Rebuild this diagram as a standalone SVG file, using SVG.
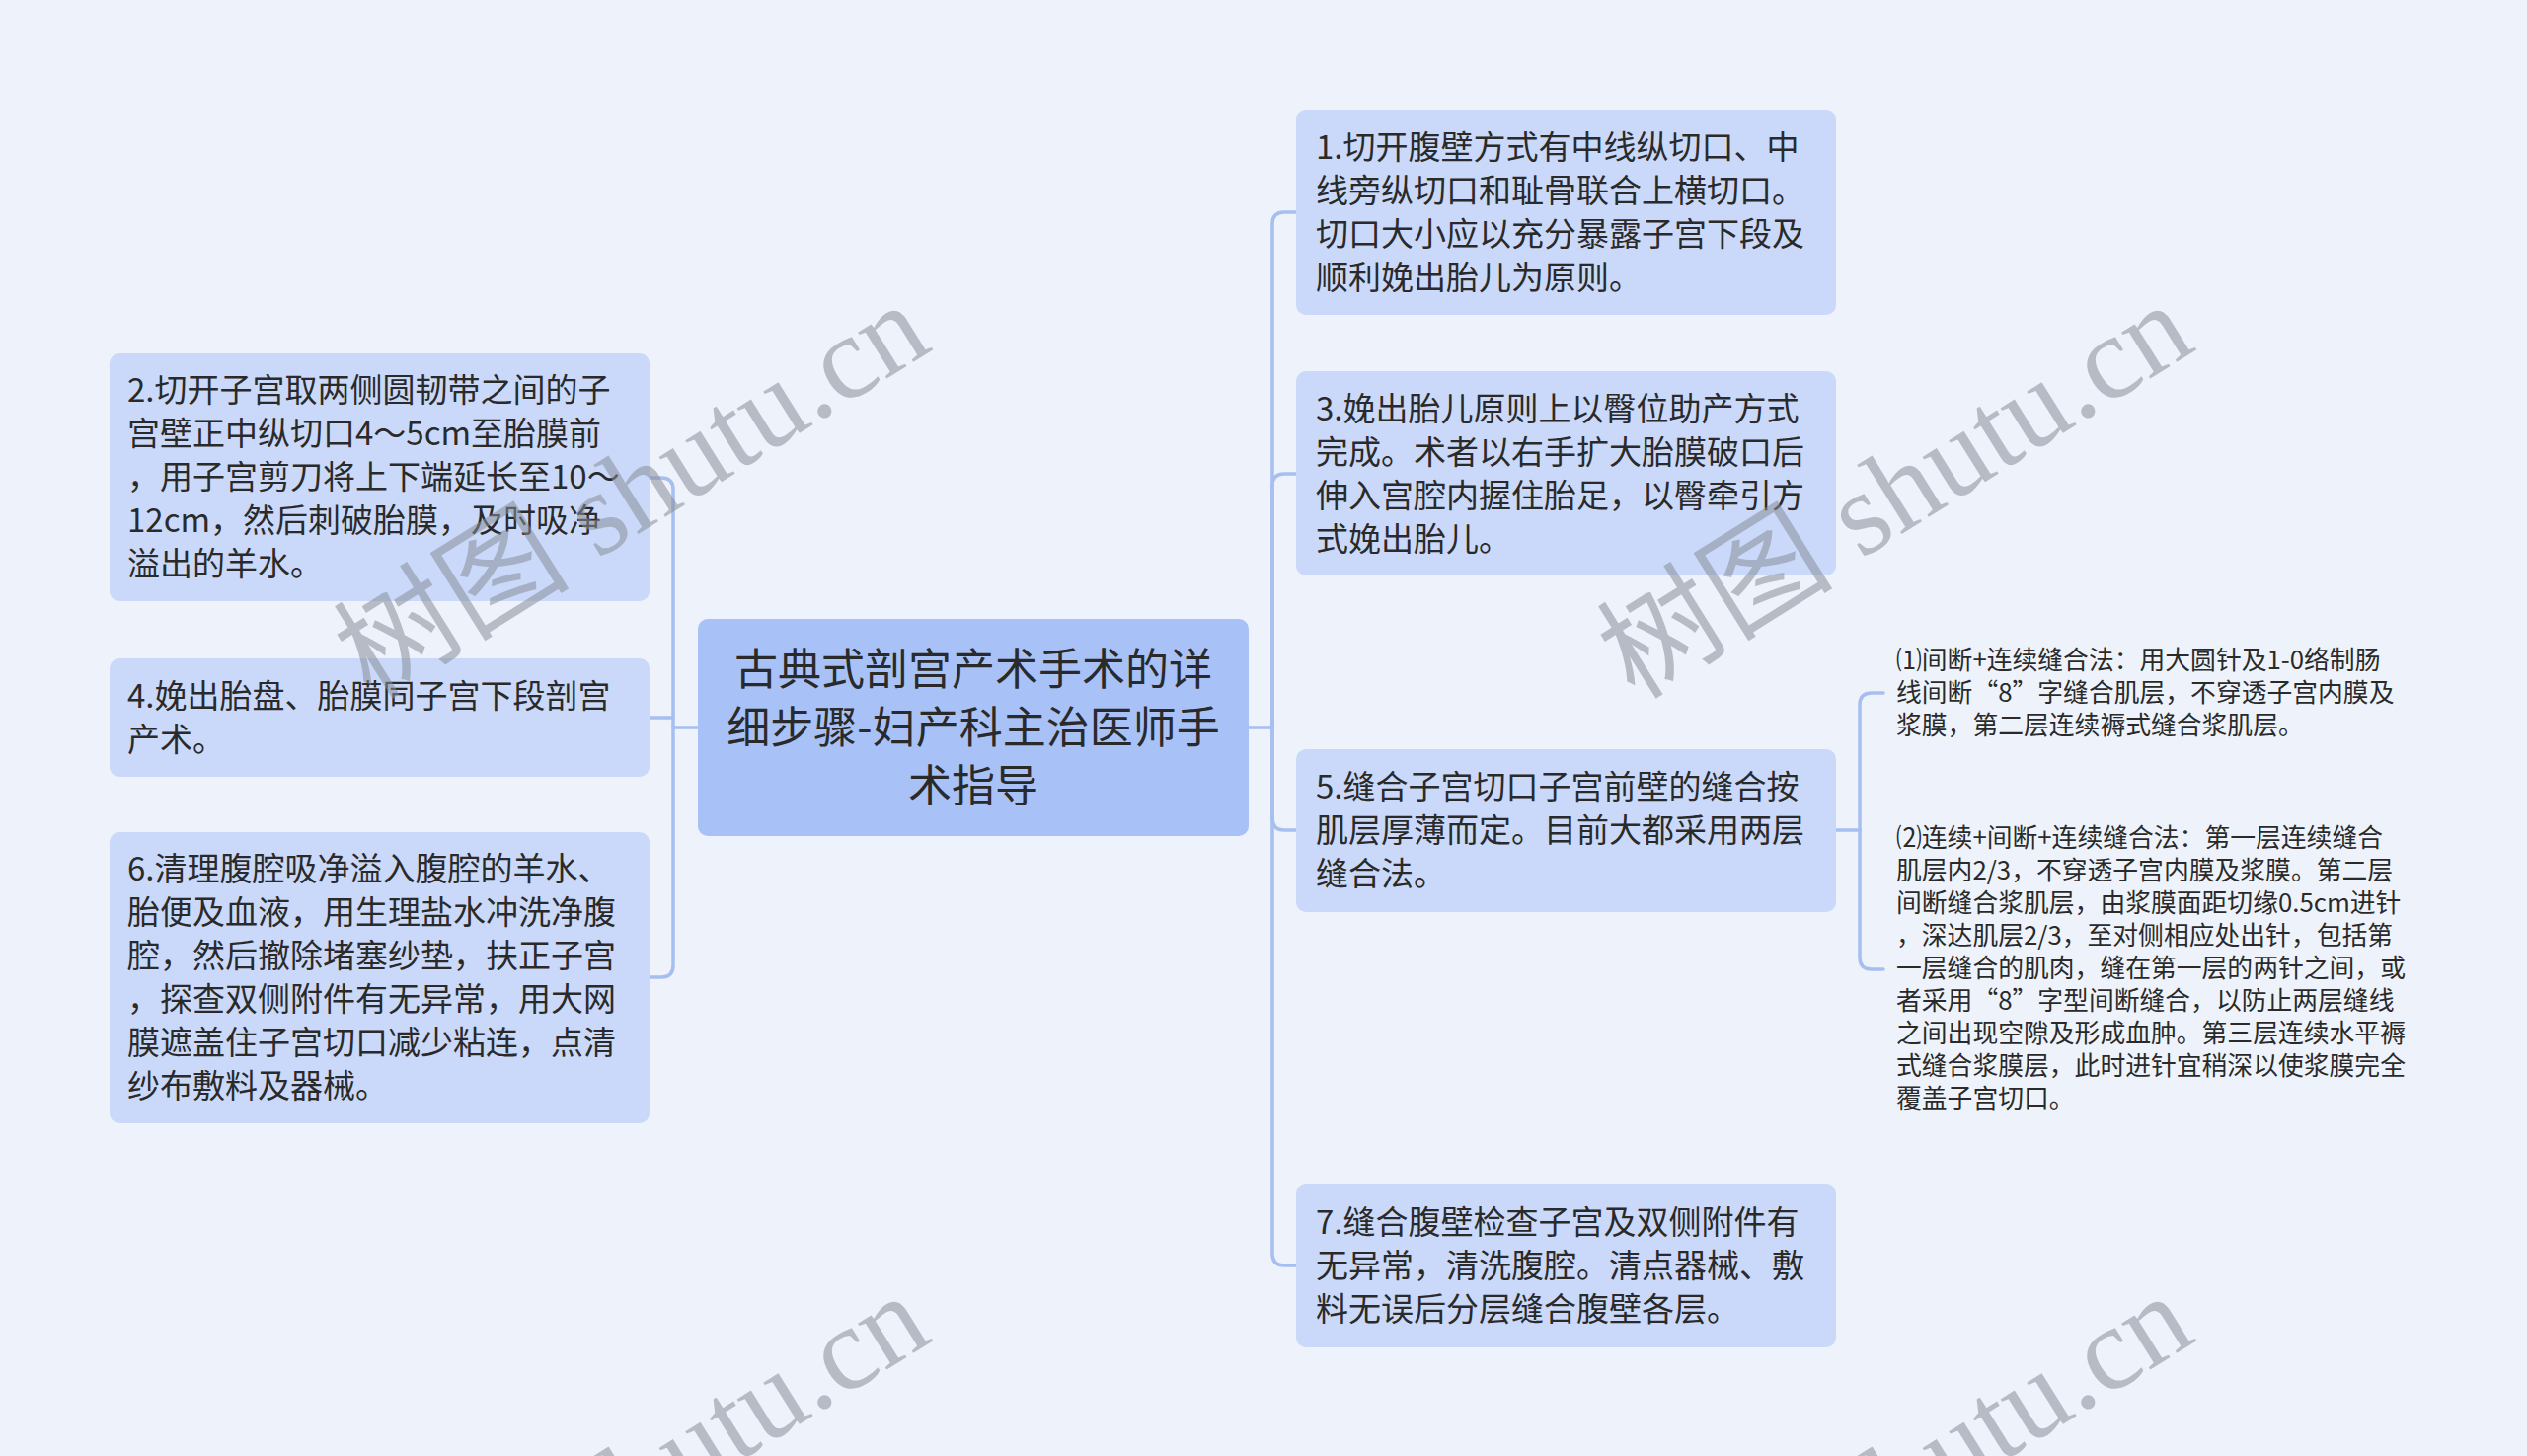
<svg xmlns="http://www.w3.org/2000/svg" width="2560" height="1475" viewBox="0 0 2560 1475">
<style>
.bg{fill:#eef3fb}
.node{fill:#cad9f9}
.root{fill:#a8c2f7}
.t{font-family:"Noto Sans CJK SC","Noto Sans",sans-serif;font-size:33px;fill:#2a2a2a}
.rt{font-family:"Noto Sans CJK SC","Noto Sans",sans-serif;font-size:44px;fill:#2a2a2a;text-anchor:middle}
.st{font-family:"Noto Sans CJK SC","Noto Sans",sans-serif;font-size:25.8px;fill:#2a2a2a}
.conn path{fill:none;stroke:#a7bff0;stroke-width:3.5;stroke-linecap:round}
.wm{font-family:"Liberation Serif","Noto Sans CJK SC",serif;font-size:120px;fill:#8a8f99;opacity:0.55}
</style>
<rect class="bg" x="0" y="0" width="2560" height="1475"/>

<g id="connectors" class="conn">
<path d="M707,737 H682"/>
<path d="M682,737 V496 Q682,484 670,484 H658"/>
<path d="M682,727 H658"/>
<path d="M682,737 V978 Q682,990 670,990 H658"/>
<path d="M1265,737 H1289"/>
<path d="M1289,737 V227 Q1289,215 1301,215 H1313"/>
<path d="M1289,737 V492 Q1289,480 1301,480 H1313"/>
<path d="M1289,737 V829 Q1289,841 1301,841 H1313"/>
<path d="M1289,737 V1270 Q1289,1282 1301,1282 H1313"/>
<path d="M1860,841 H1884"/>
<path d="M1884,841 V714 Q1884,702 1896,702 H1908"/>
<path d="M1884,841 V970 Q1884,982 1896,982 H1908"/>
</g>

<g id="root">
<rect class="root" x="707" y="627" width="558" height="220" rx="10"/>
<text class="rt" x="986" y="694">古典式剖宫产术手术的详</text>
<text class="rt" x="986" y="753">细步骤-妇产科主治医师手</text>
<text class="rt" x="986" y="812">术指导</text>
</g>

<g id="node1">
<rect class="node" x="1313" y="111" width="547" height="208" rx="10"/>
<text class="t" x="1333" y="161">1.切开腹壁方式有中线纵切口、中</text>
<text class="t" x="1333" y="205">线旁纵切口和耻骨联合上横切口。</text>
<text class="t" x="1333" y="249">切口大小应以充分暴露子宫下段及</text>
<text class="t" x="1333" y="293">顺利娩出胎儿为原则。</text>
</g>

<g id="node3">
<rect class="node" x="1313" y="376" width="547" height="207" rx="10"/>
<text class="t" x="1333" y="426">3.娩出胎儿原则上以臀位助产方式</text>
<text class="t" x="1333" y="470">完成。术者以右手扩大胎膜破口后</text>
<text class="t" x="1333" y="514">伸入宫腔内握住胎足，以臀牵引方</text>
<text class="t" x="1333" y="558">式娩出胎儿。</text>
</g>

<g id="node5">
<rect class="node" x="1313" y="759" width="547" height="165" rx="10"/>
<text class="t" x="1333" y="809">5.缝合子宫切口子宫前壁的缝合按</text>
<text class="t" x="1333" y="853">肌层厚薄而定。目前大都采用两层</text>
<text class="t" x="1333" y="897">缝合法。</text>
</g>

<g id="node7">
<rect class="node" x="1313" y="1199" width="547" height="166" rx="10"/>
<text class="t" x="1333" y="1250">7.缝合腹壁检查子宫及双侧附件有</text>
<text class="t" x="1333" y="1294">无异常，清洗腹腔。清点器械、敷</text>
<text class="t" x="1333" y="1338">料无误后分层缝合腹壁各层。</text>
</g>

<g id="node2">
<rect class="node" x="111" y="358" width="547" height="251" rx="10"/>
<text class="t" x="129" y="407">2.切开子宫取两侧圆韧带之间的子</text>
<text class="t" x="129" y="451">宫壁正中纵切口4～5cm至胎膜前</text>
<text class="t" x="129" y="495">，用子宫剪刀将上下端延长至10～</text>
<text class="t" x="129" y="539">12cm，然后刺破胎膜，及时吸净</text>
<text class="t" x="129" y="583">溢出的羊水。</text>
</g>

<g id="node4">
<rect class="node" x="111" y="667" width="547" height="120" rx="10"/>
<text class="t" x="129" y="717">4.娩出胎盘、胎膜同子宫下段剖宫</text>
<text class="t" x="129" y="761">产术。</text>
</g>

<g id="node6">
<rect class="node" x="111" y="843" width="547" height="295" rx="10"/>
<text class="t" x="129" y="892">6.清理腹腔吸净溢入腹腔的羊水、</text>
<text class="t" x="129" y="936">胎便及血液，用生理盐水冲洗净腹</text>
<text class="t" x="129" y="980">腔，然后撤除堵塞纱垫，扶正子宫</text>
<text class="t" x="129" y="1024">，探查双侧附件有无异常，用大网</text>
<text class="t" x="129" y="1068">膜遮盖住子宫切口减少粘连，点清</text>
<text class="t" x="129" y="1112">纱布敷料及器械。</text>
</g>

<g id="sub1">
<text class="st" x="1921" y="678">⑴间断+连续缝合法：用大圆针及1-0络制肠</text>
<text class="st" x="1921" y="711">线间断“8”字缝合肌层，不穿透子宫内膜及</text>
<text class="st" x="1921" y="744">浆膜，第二层连续褥式缝合浆肌层。</text>
</g>

<g id="sub2">
<text class="st" x="1921" y="858">⑵连续+间断+连续缝合法：第一层连续缝合</text>
<text class="st" x="1921" y="891">肌层内2/3，不穿透子宫内膜及浆膜。第二层</text>
<text class="st" x="1921" y="924">间断缝合浆肌层，由浆膜面距切缘0.5cm进针</text>
<text class="st" x="1921" y="957">，深达肌层2/3，至对侧相应处出针，包括第</text>
<text class="st" x="1921" y="990">一层缝合的肌肉，缝在第一层的两针之间，或</text>
<text class="st" x="1921" y="1023">者采用“8”字型间断缝合，以防止两层缝线</text>
<text class="st" x="1921" y="1056">之间出现空隙及形成血肿。第三层连续水平褥</text>
<text class="st" x="1921" y="1089">式缝合浆膜层，此时进针宜稍深以使浆膜完全</text>
<text class="st" x="1921" y="1122">覆盖子宫切口。</text>
</g>

<g id="watermarks">
<text class="wm" x="376" y="710" transform="rotate(-32 376 710)">树图 shutu.cn</text>
<text class="wm" x="1656" y="710" transform="rotate(-32 1656 710)">树图 shutu.cn</text>
<text class="wm" x="376" y="1714" transform="rotate(-32 376 1714)">树图 shutu.cn</text>
<text class="wm" x="1656" y="1714" transform="rotate(-32 1656 1714)">树图 shutu.cn</text>
</g>
</svg>
